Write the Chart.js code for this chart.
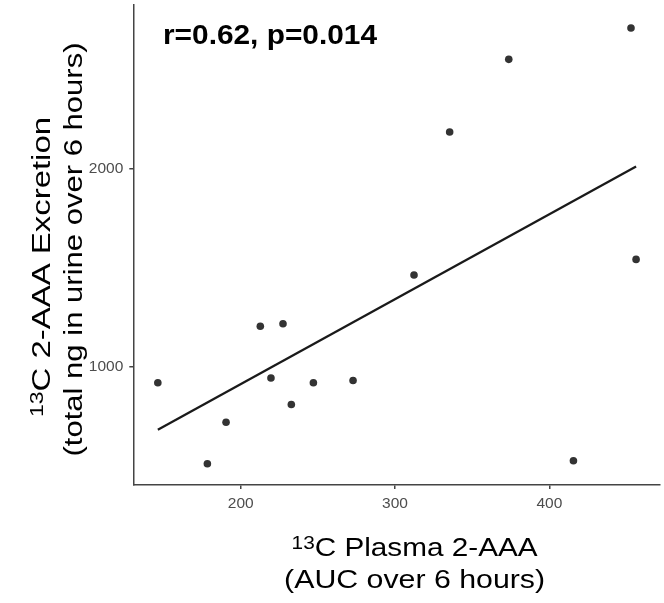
<!DOCTYPE html>
<html>
<head>
<meta charset="utf-8">
<script src="https://cdn.jsdelivr.net/npm/chart.js@4.4.1/dist/chart.umd.min.js"></script>
<style>
  html, body { margin: 0; padding: 0; background: #ffffff; }
  canvas { display: block; }
</style>
</head>
<body>
<canvas id="c" width="664" height="603"></canvas>
<script>
// ---- data ----
const plasmaAUC = [146.3, 178.4, 190.5, 212.7, 227.4, 219.6, 232.8, 247.1, 272.8, 312.3, 335.4, 373.7, 452.9, 456.2, 415.6];
const urineExcretion = [919, 511, 720, 1204, 1217, 943, 810, 919, 931, 1462, 2183, 2549, 2707, 1541, 526];
const fitX = [146.3, 456.2];
const fitY = [683, 2009];
const xTicks = [200, 300, 400];
const yTicks = [1000, 2000];
const annotationText = "r=0.62, p=0.014";
const xTitleLines = [[["13", true], ["C Plasma 2-AAA", false]], [["(AUC over 6 hours)", false]]];
const yTitleLines = [[["13", true], ["C 2-AAA Excretion", false]], [["(total ng in urine over 6 hours)", false]]];

const FONT = '"Liberation Sans", Arial, Helvetica, sans-serif';

function drawRich(ctx, segs, cx, cy, baseSize, bold, targetW, rotate) {
  const w = bold ? 'bold ' : '';
  const supSize = baseSize * 0.7;
  let natural = 0;
  const parts = segs.map(([t, sup]) => {
    ctx.font = w + (sup ? supSize : baseSize) + 'px ' + FONT;
    const mw = ctx.measureText(t).width;
    natural += mw;
    return { t, sup, mw };
  });
  const sx = targetW / natural;
  ctx.save();
  ctx.translate(cx, cy);
  if (rotate) ctx.rotate(-Math.PI / 2);
  ctx.scale(sx, 1);
  ctx.fillStyle = '#000000';
  ctx.textBaseline = 'alphabetic';
  ctx.textAlign = 'left';
  let x = -natural / 2;
  parts.forEach(p => {
    ctx.font = w + (p.sup ? supSize : baseSize) + 'px ' + FONT;
    ctx.fillText(p.t, x, p.sup ? -baseSize * 0.27 : 0);
    x += p.mw;
  });
  ctx.restore();
}

const textPlugin = {
  id: 'texts',
  afterDraw(chart) {
    const ctx = chart.ctx;
    // annotation
    drawRich(ctx, [[annotationText, false]], 163 + 214 / 2, 44, 27, true, 214, false);
    // x title
    drawRich(ctx, xTitleLines[0], 414.6, 555.5, 25.5, false, 246, false);
    drawRich(ctx, xTitleLines[1], 414.6, 587.5, 25.5, false, 261, false);
    // y title (rotated)
    drawRich(ctx, yTitleLines[0], 50, 267, 25.5, false, 300, true);
    drawRich(ctx, yTitleLines[1], 82, 249.5, 25.5, false, 414, true);
  }
};

const axisColor = '#444444';
const tickTextColor = '#4d4d4d';

function zeroPad(s) { s.paddingTop = 0; s.paddingBottom = 0; s.paddingLeft = 0; s.paddingRight = 0; }

new Chart(document.getElementById('c'), {
  type: 'scatter',
  data: {
    datasets: [
      {
        label: 'points',
        data: plasmaAUC.map((x, i) => ({ x, y: urineExcretion[i] })),
        backgroundColor: '#333333',
        borderWidth: 0,
        pointRadius: 3.8,
        pointHoverRadius: 3.8
      },
      {
        label: 'fit',
        type: 'line',
        data: fitX.map((x, i) => ({ x, y: fitY[i] })),
        borderColor: '#1a1a1a',
        borderWidth: 2.3,
        pointRadius: 0,
        fill: false,
        tension: 0
      }
    ]
  },
  options: {
    responsive: false,
    animation: false,
    layout: { padding: { left: 0, top: 5, right: 4, bottom: 0 } },
    plugins: {
      legend: { display: false },
      tooltip: { enabled: false }
    },
    scales: {
      x: {
        type: 'linear',
        min: 130.4,
        max: 471.7,
        afterBuildTicks: (s) => { s.ticks = xTicks.map(v => ({ value: v })); },
        afterFit: (s) => { s.height = 118; zeroPad(s); },
        grid: { display: true, drawOnChartArea: false, drawTicks: true, tickLength: 4, color: axisColor, lineWidth: 1.5 },
        border: { display: true, color: axisColor, width: 1.5 },
        ticks: { color: tickTextColor, font: { family: FONT, size: 15.5 }, padding: 5, maxRotation: 0, callback: (v) => String(v) }
      },
      y: {
        type: 'linear',
        min: 404,
        max: 2823,
        afterBuildTicks: (s) => { s.ticks = yTicks.map(v => ({ value: v })); },
        afterFit: (s) => { s.width = 133.3; zeroPad(s); },
        grid: { display: true, drawOnChartArea: false, drawTicks: true, tickLength: 4, color: axisColor, lineWidth: 1.5 },
        border: { display: true, color: axisColor, width: 1.5 },
        ticks: { color: tickTextColor, font: { family: FONT, size: 15.5 }, padding: 6, callback: (v) => String(v) }
      }
    }
  },
  plugins: [textPlugin]
});
</script>
</body>
</html>
